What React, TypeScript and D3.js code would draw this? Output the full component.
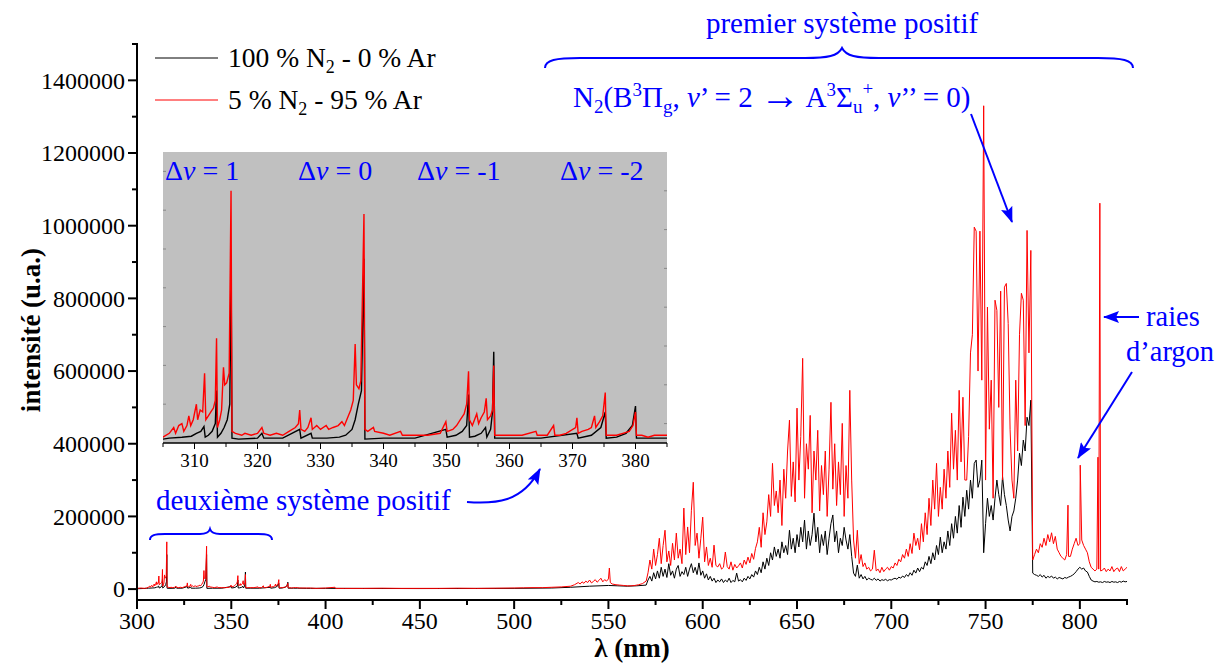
import React from "react";
import * as d3 from "d3";

const FONT = '"Liberation Serif", "DejaVu Serif", serif';
const BLUE = "#0000ff";

// intensities in 10^3 u.a., wavelength in nm
const redUV: [number, number][] = [
  [300, 2], [302, 3], [304, 2], [305, 3], [306, 5], [306.7, 8], [307, 5], [307.5, 9], [308, 10], [308.3, 6],
  [308.8, 9], [309.1, 14], [309.4, 9], [309.8, 12], [310.3, 20], [310.5, 12], [310.9, 17], [311.3, 16], [311.6, 36], [311.8, 12],
  [312.2, 14], [312.6, 16], [313, 18], [313.3, 22], [313.5, 54], [313.65, 8], [314, 12], [314.3, 17], [314.6, 39], [314.8, 30],
  [315.1, 31], [315.5, 36], [315.8, 130], [315.95, 6], [316.5, 5], [317.5, 4], [318, 5], [319, 4], [320, 5], [320.7, 8],
  [321, 5], [322, 4], [323, 5], [324, 4], [325, 6], [326, 8], [326.5, 10], [326.7, 17], [326.9, 7], [327.5, 6],
  [328, 8], [328.5, 13], [328.7, 7], [329.4, 9], [330, 7], [330.9, 9], [331.3, 7], [332, 8], [332.8, 9], [333.4, 11],
  [333.8, 9], [334.3, 13], [334.8, 17], [335.2, 22], [335.5, 51], [335.7, 30], [336.1, 28], [336.4, 32], [336.9, 118], [337.05, 7],
  [337.5, 6], [338.4, 8], [338.6, 6], [340, 5], [341, 4], [342.7, 6], [343, 4], [345, 4], [347, 4], [349, 5],
  [349.9, 11], [350.1, 6], [351, 7], [351.6, 9], [352.2, 12], [352.8, 15], [353.2, 20], [353.5, 37], [353.65, 12], [354.1, 9],
  [354.8, 15], [355.1, 10], [355.5, 13], [356, 16], [356.3, 23], [356.5, 12], [357, 14], [357.3, 17], [357.5, 40], [357.65, 4],
  [358.5, 4], [360, 4], [362, 4], [364.2, 6], [364.4, 4], [366, 4], [367, 9], [367.2, 4], [368, 4], [369, 5],
  [370.5, 8], [370.7, 13], [370.9, 5], [371.5, 6], [372.5, 7], [373, 8], [373.5, 14], [373.7, 8], [374.3, 11], [374.8, 14],
  [375.2, 26], [375.35, 4], [376, 4], [377, 4], [378, 5], [379, 6], [379.6, 9], [380, 16], [380.15, 4], [381, 4],
  [382, 3], [383, 4], [384, 4], [385, 4], [386, 3], [388, 3], [390, 3],
];

const blackUV: [number, number][] = [
  [300, 1], [305, 2], [306, 2.5], [308, 3], [309.5, 3.5], [310.3, 5], [311, 6], [311.5, 8.5], [311.7, 3], [312.2, 4],
  [312.8, 6], [313.3, 10], [313.5, 27], [313.65, 3], [314.2, 5], [314.7, 8], [315.2, 12], [315.6, 20], [315.8, 95], [315.95, 2.5],
  [317, 2], [320, 2.5], [320.7, 5], [321, 2.5], [324, 2.5], [326.7, 7], [326.9, 2.5], [328.5, 5], [328.7, 2.5], [331, 2.5],
  [333, 3], [334, 4], [335, 7], [335.5, 12], [336, 20], [336.5, 27], [336.9, 95], [337.05, 2], [340, 2.5], [345, 2.5],
  [349.9, 7], [350.1, 3], [351.5, 4], [352.5, 6], [353.2, 9], [353.5, 25], [353.65, 3], [354.5, 3.5], [355.5, 5], [356.2, 8],
  [356.4, 3], [357, 7], [357.3, 16], [357.5, 47], [357.65, 2.5], [360, 2.5], [365, 2.5], [370.7, 5], [370.9, 2.5], [373, 4],
  [374.5, 8], [375.2, 16], [375.35, 2.5], [377, 3], [378.5, 5], [379.5, 9], [380, 19], [380.15, 2.5], [383, 2.5], [385, 2.5],
  [390, 2],
];

const redVis: [number, number][] = [
  [392, 3], [395, 2], [400, 3], [405, 5], [405.3, 2], [410, 2], [420, 2], [430, 2.5], [440, 2], [450, 2],
  [460, 2], [470, 2.5], [480, 2], [490, 2.5], [500, 3], [505, 3.5], [510, 4], [515, 4], [520, 5], [525, 6],
  [530, 8], [532, 12], [534, 18], [535, 14], [536, 20], [537, 16], [538, 22], [539, 18], [540, 25], [541, 17],
  [542, 21], [543, 26], [544, 19], [545, 24], [546, 30], [547, 20], [548, 26], [549, 22], [550, 28], [550.5, 58],
  [551, 18], [552, 14], [554, 12], [556, 11], [558, 10], [560, 9], [562, 9], [564, 10], [566, 12], [568, 15],
];

const blackVis: [number, number][] = [
  [392, 2], [400, 2], [450, 1.5], [500, 2], [520, 3], [530, 5], [540, 8], [550, 10], [555, 9], [560, 8],
  [565, 9],
];

// 1 nm grid from 570 nm to 825 nm
const gridStart = 570;
const redGrid = [
  22, 45, 80, 55, 110, 65, 95, 140, 70, 120,
  162, 75, 105, 65, 126, 80, 154, 85, 110, 70,
  223, 95, 171, 100, 217, 294, 120, 154, 85, 140,
  198, 75, 116, 65, 85, 60, 121, 65, 61, 70,
  55, 60, 102, 62, 55, 75, 52, 68, 58, 64,
  72, 58, 80, 68, 88, 72, 98, 82, 112, 130,
  170, 115, 210, 150, 185, 260, 200, 346, 230, 270,
  210, 300, 175, 330, 250, 380, 465, 255, 350, 240,
  498, 300, 420, 635, 250, 400, 330, 478, 210, 380,
  300, 437, 215, 340, 260, 380, 200, 330, 514, 275,
  400, 230, 350, 260, 456, 200, 340, 250, 547, 300,
  135, 85, 162, 70, 95, 62, 72, 55, 60, 50,
  55, 107, 50, 55, 45, 60, 48, 55, 60, 52,
  62, 58, 72, 65, 82, 75, 95, 85, 110, 90,
  125, 98, 154, 120, 140, 108, 180, 130, 210, 150,
  250, 175, 300, 220, 346, 200, 280, 220, 330, 250,
  380, 280, 484, 330, 437, 300, 547, 350, 528, 300,
  300, 420, 650, 700, 996, 985, 600, 985, 575, 1330,
  300, 776, 440, 575, 250, 795, 767, 500, 820, 300,
  831, 841, 731, 440, 300, 250, 575, 380, 700, 814,
  795, 450, 987, 650, 932, 80, 95, 110, 100, 125,
  115, 140, 120, 150, 130, 155, 125, 145, 110, 100,
  90, 85, 80, 95, 90, 90, 110, 125, 140, 120,
  125, 135, 120, 110, 100, 75, 60, 55, 50, 55,
  55, 50, 52, 58, 48, 55, 50, 62, 48, 55,
  58, 48, 62, 50, 55, 60,
];
const blackGrid = [
  11, 25, 35, 22, 45, 28, 50, 30, 60, 35,
  55, 32, 70, 38, 50, 30, 55, 65, 35, 48,
  40, 60, 35, 55, 70, 45, 60, 40, 72, 38,
  50, 30, 42, 25, 35, 22, 30, 18, 25, 20,
  28, 18, 25, 20, 30, 18, 24, 20, 44, 22,
  26, 20, 30, 24, 35, 28, 40, 33, 50, 40,
  60, 45, 75, 55, 85, 65, 100, 80, 116, 90,
  110, 85, 130, 100, 120, 95, 162, 110, 140, 100,
  150, 116, 170, 130, 190, 110, 160, 120, 150, 209,
  130, 170, 100, 150, 120, 160, 95, 140, 180, 204,
  130, 160, 100, 140, 120, 170, 135, 110, 150, 90,
  44, 35, 66, 30, 40, 28, 35, 25, 30, 27,
  25, 30, 24, 28, 22, 26, 24, 27, 23, 26,
  25, 28, 30, 27, 33, 30, 36, 32, 40, 35,
  45, 38, 52, 44, 58, 48, 60, 55, 75, 65,
  90, 70, 100, 80, 120, 95, 143, 100, 130, 110,
  160, 120, 180, 140, 200, 154, 230, 170, 253, 200,
  272, 220, 300, 250, 346, 355, 280, 300, 355, 100,
  180, 250, 200, 230, 190, 250, 300, 260, 230, 310,
  260, 230, 190, 160, 200, 215, 250, 300, 374, 340,
  410, 380, 473, 450, 520, 44, 40, 38, 35, 40,
  33, 38, 30, 35, 32, 36, 30, 33, 28, 32,
  30, 28, 32, 30, 33, 35, 38, 42, 48, 55,
  60, 55, 58, 50, 47, 35, 25, 22, 20, 21,
  19, 20, 18, 21, 19, 20, 18, 21, 19, 20,
  18, 21, 19, 22, 20, 21,
];
// narrow lines (argon and others)
const redLines: [number, number][] = [[793.7, 231], [800.2, 341], [809.6, 363], [810.6, 1062]];

const xMajorTicks = [300, 350, 400, 450, 500, 550, 600, 650, 700, 750, 800];
const xMinorTicks = [325, 375, 425, 475, 525, 575, 625, 675, 725, 775, 825];
const yMajorTicks = [0, 200, 400, 600, 800, 1000, 1200, 1400];
const yMajorLabels = ["0", "200000", "400000", "600000", "800000", "1000000", "1200000", "1400000"];
const yMinorTicks = [100, 300, 500, 700, 900, 1100, 1300, 1500];
const insetMajor = [310, 320, 330, 340, 350, 360, 370, 380];
const insetMinor = [305, 315, 325, 335, 345, 355, 365, 375, 385];
const insetYTicks = [20, 40, 60, 80, 100, 120, 140];
const bandLabels = [
  { text: "1", at: 165 },
  { text: "0", at: 298 },
  { text: "-1", at: 417 },
  { text: "-2", at: 560 },
];

function buildSeries(uv: [number, number][], vis: [number, number][], grid: number[], lines: [number, number][]) {
  const pts: [number, number][] = [...uv, ...vis, ...grid.map((v, i) => [gridStart + i, v] as [number, number]), ...lines];
  pts.sort((a, b) => a[0] - b[0]);
  return pts;
}

export default function App() {
  const red = buildSeries(redUV, redVis, redGrid, redLines);
  const black = buildSeries(blackUV, blackVis, blackGrid, []);

  const x = d3.scaleLinear().domain([300, 825]).range([137, 1127]);
  const y = d3.scaleLinear().domain([-30, 1500]).range([600, 44]);
  const line = d3.line<[number, number]>().x((d) => x(d[0])).y((d) => y(d[1]));

  const xi = d3.scaleLinear().domain([305, 385]).range([163, 667]);
  const yi = d3.scaleLinear().domain([0, 150]).range([443, 152]);
  const lineIn = d3.line<[number, number]>().x((d) => xi(d[0])).y((d) => yi(d[1]));
  const insetPart = (s: [number, number][]) => s.filter((d) => d[0] >= 300 && d[0] <= 392);

  const axisW = 2;
  const tf = { fontFamily: FONT };

  return (
    <svg width={1227} height={667} style={{ position: "absolute", left: 0, top: 0, background: "#fff", fontFamily: FONT }}>
      <defs>
        <clipPath id="plotClip">
          <rect x={137} y={44} width={990} height={556} />
        </clipPath>
        <clipPath id="insetClip">
          <rect x={163} y={152} width={504} height={291} />
        </clipPath>
        <marker id="arrow" viewBox="0 0 16 12" refX={15} refY={6} markerWidth={16} markerHeight={12} markerUnits="userSpaceOnUse" orient="auto">
          <path d="M0,0 L16,6 L0,12 L3,6 Z" fill={BLUE} />
        </marker>
      </defs>

      {/* main spectra */}
      <g clipPath="url(#plotClip)">
        <path d={line(black) || ""} fill="none" stroke="#000" strokeWidth={1} />
        <path d={line(red) || ""} fill="none" stroke="#ff0000" strokeWidth={1} />
      </g>

      {/* axes */}
      <line x1={137} x2={137} y1={43} y2={601} stroke="#000" strokeWidth={axisW} />
      <line x1={136} x2={1128} y1={600} y2={600} stroke="#000" strokeWidth={axisW} />
      {yMajorTicks.map((v, i) => (
        <g key={"ym" + v}>
          <line x1={128} x2={137} y1={y(v)} y2={y(v)} stroke="#000" strokeWidth={2} />
          <text x={125} y={y(v)} dy="0.35em" textAnchor="end" fontSize={24} style={tf}>{yMajorLabels[i]}</text>
        </g>
      ))}
      {yMinorTicks.map((v) => (
        <line key={"yn" + v} x1={132} x2={137} y1={y(v)} y2={y(v)} stroke="#000" strokeWidth={2} />
      ))}
      {xMajorTicks.map((v) => (
        <g key={"xm" + v}>
          <line x1={x(v)} x2={x(v)} y1={600} y2={609} stroke="#000" strokeWidth={2} />
          <text x={x(v)} y={629} textAnchor="middle" fontSize={24} style={tf}>{v}</text>
        </g>
      ))}
      {xMinorTicks.map((v) => (
        <line key={"xn" + v} x1={x(v)} x2={x(v)} y1={600} y2={605} stroke="#000" strokeWidth={2} />
      ))}
      <text x={632} y={657} textAnchor="middle" fontSize={27} fontWeight="bold" style={tf}>λ (nm)</text>
      <text transform="translate(40,330) rotate(-90)" textAnchor="middle" fontSize={27} fontWeight="bold" style={tf}>intensité (u.a.)</text>

      {/* legend */}
      <line x1={155} x2={218} y1={58} y2={58} stroke="#000" strokeWidth={1} />
      <text x={228} y={67} fontSize={27.5} style={tf}>
        100 % N<tspan dy={6} fontSize={18}>2</tspan><tspan dy={-6}> - 0 % Ar</tspan>
      </text>
      <line x1={155} x2={218} y1={100} y2={100} stroke="#ff0000" strokeWidth={1} />
      <text x={228} y={109} fontSize={27.5} style={tf}>
        5 % N<tspan dy={6} fontSize={18}>2</tspan><tspan dy={-6}> - 95 % Ar</tspan>
      </text>

      {/* inset */}
      <rect x={163} y={152} width={504} height={291} fill="#c0c0c0" />
      <g clipPath="url(#insetClip)">
        <path d={lineIn(insetPart(black)) || ""} fill="none" stroke="#000" strokeWidth={1.4} />
        <path d={lineIn(insetPart(red)) || ""} fill="none" stroke="#ff0000" strokeWidth={1.4} />
      </g>
      {insetYTicks.map((v) => (
        <g key={"iy" + v}>
          <line x1={163} x2={166} y1={yi(v)} y2={yi(v)} stroke="#888" strokeWidth={1} />
          <line x1={664} x2={667} y1={yi(v - 10)} y2={yi(v - 10)} stroke="#888" strokeWidth={1} />
        </g>
      ))}
      <line x1={163} x2={667} y1={443} y2={443} stroke="#000" strokeWidth={1.5} />
      {insetMajor.map((v) => (
        <g key={"im" + v}>
          <line x1={xi(v)} x2={xi(v)} y1={443} y2={449} stroke="#000" strokeWidth={1} />
          <text x={xi(v)} y={467} textAnchor="middle" fontSize={19} style={tf}>{v}</text>
        </g>
      ))}
      {insetMinor.map((v) => (
        <line key={"in" + v} x1={xi(v)} x2={xi(v)} y1={443} y2={447} stroke="#000" strokeWidth={1} />
      ))}
      {bandLabels.map((b) => (
        <text key={b.text} x={b.at} y={180} fontSize={28} fill={BLUE} style={tf}>
          Δ<tspan fontStyle="italic">v</tspan> = {b.text}
        </text>
      ))}

      {/* annotations */}
      <text x={842} y={33} textAnchor="middle" fontSize={29} fill={BLUE} style={tf}>premier système positif</text>
      <path d="M545,68 C545,60 556,58 580,58 L805,58 C828,58 838,56 842,48 C846,56 856,58 879,58 L1098,58 C1122,58 1133,60 1133,68"
        fill="none" stroke={BLUE} strokeWidth={2} />
      <text x={573} y={107} fontSize={29} fill={BLUE} style={tf}>
        N<tspan dy={6} fontSize={19}>2</tspan>
        <tspan dy={-6}>(B</tspan>
        <tspan dy={-11} fontSize={19}>3</tspan>
        <tspan dy={11}>Π</tspan>
        <tspan dy={6} fontSize={19}>g</tspan>
        <tspan dy={-6}>, </tspan>
        <tspan fontStyle="italic">v</tspan>
        <tspan>’ = 2 </tspan>
        <tspan fontSize={40} dy={2}>→</tspan>
        <tspan dy={-2}> A</tspan>
        <tspan dy={-11} fontSize={19}>3</tspan>
        <tspan dy={11}>Σ</tspan>
        <tspan dy={6} fontSize={19}>u</tspan>
        <tspan dy={-18} fontSize={19}>+</tspan>
        <tspan dy={12}>, </tspan>
        <tspan fontStyle="italic">v</tspan>
        <tspan>’’ = 0)</tspan>
      </text>
      <line x1={971} x2={1012} y1={114} y2={222} stroke={BLUE} strokeWidth={2} markerEnd="url(#arrow)" />

      <text x={1146} y={326} fontSize={28.5} fill={BLUE} style={tf}>raies</text>
      <text x={1126} y={361} fontSize={28.5} fill={BLUE} style={tf}>d’argon</text>
      <line x1={1139} x2={1104} y1={317} y2={317} stroke={BLUE} strokeWidth={2} markerEnd="url(#arrow)" />
      <line x1={1132} x2={1078} y1={372} y2={458} stroke={BLUE} strokeWidth={2} markerEnd="url(#arrow)" />

      <text x={156} y={510} fontSize={29} fill={BLUE} style={tf}>deuxième système positif</text>
      <path d="M150,540 C150,535 155,534 165,534 L200,534 C206,534 209,532 210,529 C211,532 214,534 220,534 L258,534 C267,534 272,535 272,540"
        fill="none" stroke={BLUE} strokeWidth={2} />
      <path d="M467,502 C495,504 522,503 540,469" fill="none" stroke={BLUE} strokeWidth={2} markerEnd="url(#arrow)" />
    </svg>
  );
}
